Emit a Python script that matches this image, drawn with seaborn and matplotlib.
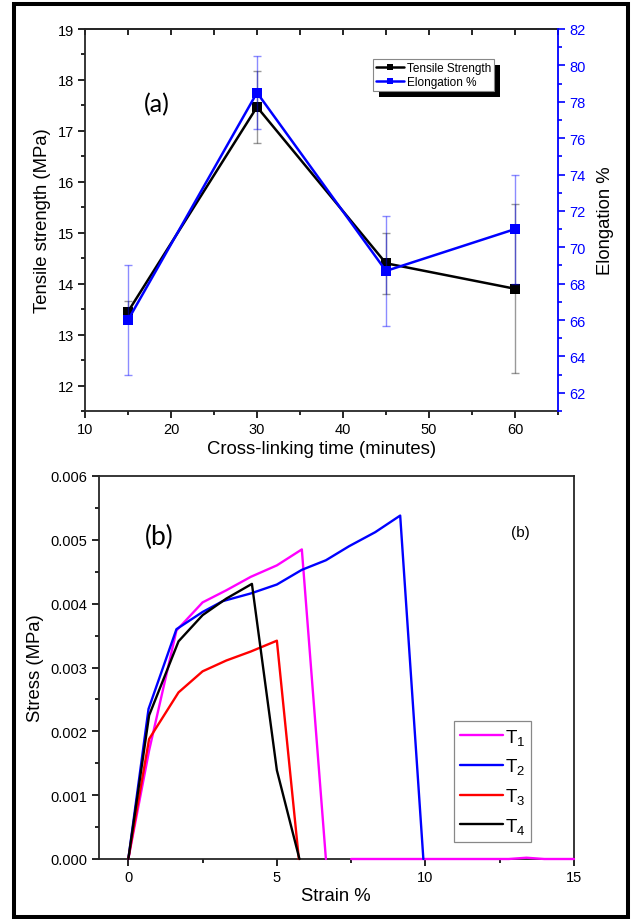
import numpy as np
import pandas as pd
import matplotlib
matplotlib.use("Agg")
import matplotlib.pyplot as plt
from matplotlib.ticker import MultipleLocator, FormatStrFormatter
from matplotlib.patches import Rectangle
from matplotlib.lines import Line2D
import seaborn as sns

# ---- Panel (a): mechanical properties vs cross-linking time ----
time_min = [15, 30, 45, 60]
tensile_mpa = [13.45, 17.47, 14.40, 13.90]
tensile_err = [0.20, 0.70, 0.60, 1.66]
elongation_pct = [66.0, 78.5, 68.7, 71.0]
elongation_err = [3.0, 2.0, 3.0, 3.0]

# ---- Panel (b): stress-strain curves ----
t1_strain = [0, 0.70, 1.62, 2.50, 3.30, 4.12, 5.00, 5.84, 6.65]
t1_stress = [0, 0.00170, 0.00358, 0.00402, 0.00421, 0.00442, 0.00460, 0.00485, 0]
t1_tail_strain = [7.50, 12.8, 13.4, 14.0, 15.0]
t1_tail_stress = [0, 0, 0.00002, 0, 0]
t2_strain = [0, 0.68, 1.62, 2.50, 3.18, 4.12, 5.00, 5.84, 6.65, 7.43, 8.31, 9.15, 9.93]
t2_stress = [0, 0.00235, 0.00360, 0.00387, 0.00404, 0.00416, 0.00430, 0.00453,
             0.00468, 0.00490, 0.00512, 0.00538, 0]
t3_strain = [0, 0.70, 1.69, 2.50, 3.30, 4.12, 5.00, 5.74]
t3_stress = [0, 0.00188, 0.00261, 0.00294, 0.00311, 0.00325, 0.00342, 0]
t4_strain = [0, 0.70, 1.69, 2.50, 3.30, 4.16, 5.00, 5.76]
t4_stress = [0, 0.00225, 0.00341, 0.00382, 0.00408, 0.00431, 0.00139, 0]
sample_labels = [r"$\mathregular{T_1}$", r"$\mathregular{T_2}$",
                 r"$\mathregular{T_3}$", r"$\mathregular{T_4}$"]
sample_colors = ["#ff00ff", "#0000ff", "#ff0000", "#000000"]

sns.set_theme(style="ticks")
plt.rcParams["font.family"] = ["Liberation Sans", "DejaVu Sans"]
plt.rcParams["mathtext.fontset"] = "custom"
plt.rcParams["mathtext.rm"] = "Liberation Sans"
plt.rcParams["mathtext.it"] = "Liberation Sans"
plt.rcParams["axes.linewidth"] = 1.3
plt.rcParams["text.color"] = "black"
plt.rcParams["axes.labelcolor"] = "black"
plt.rcParams["xtick.color"] = "black"
plt.rcParams["ytick.color"] = "black"

W, H = 631, 920
fig = plt.figure(figsize=(W / 100, H / 100), dpi=100, facecolor="white")

BLUE = "#0000ff"
TICK_FS = 10.5
LABEL_FS = 13.3

# ================= panel (a) =================
ax = fig.add_axes([85 / W, 1 - 412 / H, (558 - 85) / W, (412 - 30) / H])
ax.set_facecolor("white")
ax2 = ax.twinx()

df_a = pd.DataFrame({"time": time_min, "tensile": tensile_mpa,
                     "elong": elongation_pct})

ax.errorbar(time_min, tensile_mpa, yerr=tensile_err, fmt="none",
            ecolor=(0, 0, 0, 0.4), elinewidth=1, capsize=3, capthick=1)
sns.lineplot(data=df_a, x="time", y="tensile", ax=ax, color="black",
             marker="s", markersize=7, markeredgewidth=0, linewidth=1.8,
             legend=False)

ax2.errorbar(time_min, elongation_pct, yerr=elongation_err, fmt="none",
             ecolor=(0, 0, 1, 0.45), elinewidth=1, capsize=3, capthick=1)
sns.lineplot(data=df_a, x="time", y="elong", ax=ax2, color=BLUE,
             marker="s", markersize=7, markeredgewidth=0, linewidth=1.8,
             legend=False)

ax.set_xlim(10, 65)
ax.set_ylim(11.5, 19)
ax2.set_ylim(61, 82)

ax.xaxis.set_major_locator(MultipleLocator(10))
ax.xaxis.set_minor_locator(MultipleLocator(5))
ax.yaxis.set_major_locator(MultipleLocator(1))
ax.yaxis.set_minor_locator(MultipleLocator(0.5))
ax2.yaxis.set_major_locator(MultipleLocator(2))
ax2.yaxis.set_minor_locator(MultipleLocator(1))

ax.tick_params(axis="both", which="major", direction="out", length=5,
               width=1.2, labelsize=TICK_FS, pad=3)
ax.tick_params(axis="both", which="minor", direction="out", length=3,
               width=1.2)
ax.tick_params(axis="y", which="both", right=False)
ax2.tick_params(axis="y", which="major", direction="out", length=5,
                width=1.2, colors=BLUE, labelsize=TICK_FS, pad=3)
ax2.tick_params(axis="y", which="minor", direction="out", length=3,
                width=1.2, colors=BLUE)

ax.spines["right"].set_visible(False)
for s in ["top", "left", "bottom"]:
    ax2.spines[s].set_visible(False)
ax2.spines["right"].set_color(BLUE)
ax2.spines["right"].set_linewidth(1.3)

# inward ticks along the top edge
top = ax.secondary_xaxis("top")
top.xaxis.set_major_locator(MultipleLocator(5))
top.tick_params(axis="x", which="major", direction="in", length=4,
                width=1.2, labeltop=False)
top.spines["top"].set_linewidth(1.3)

ax.set_xlabel("Cross-linking time (minutes)", fontsize=LABEL_FS, labelpad=3)
ax.set_ylabel("Tensile strength (MPa)", fontsize=LABEL_FS, labelpad=5)
ax2.set_ylabel("Elongation %", fontsize=LABEL_FS, labelpad=8, color="black")

handles_a = [
    Line2D([], [], color="black", marker="s", markersize=5,
           markeredgewidth=0, linewidth=1.8),
    Line2D([], [], color=BLUE, marker="s", markersize=5,
           markeredgewidth=0, linewidth=1.8),
]
leg_a = ax2.legend(handles_a, ["Tensile Strength", "Elongation %"],
                   loc="upper left", bbox_to_anchor=(373 / W, 1 - 60 / H),
                   bbox_transform=fig.transFigure, borderaxespad=0,
                   fontsize=8.5, frameon=True, fancybox=False,
                   edgecolor="#888888", framealpha=1, handlelength=2.4,
                   handletextpad=0.2, labelspacing=0.15, borderpad=0.25)
leg_a.get_frame().set_linewidth(0.8)

fig.text(157 / W, 1 - 105 / H, "(a)", fontsize=18, family="Lato",
         ha="center", va="center")

# ================= panel (b) =================
axb = fig.add_axes([98.6 / W, 1 - 860 / H, (574 - 98.6) / W, (860 - 477) / H])
axb.set_facecolor("white")

curves = [
    (sample_labels[0], 0, t1_strain, t1_stress),
    (sample_labels[0], 1, t1_tail_strain, t1_tail_stress),
    (sample_labels[1], 2, t2_strain, t2_stress),
    (sample_labels[2], 3, t3_strain, t3_stress),
    (sample_labels[3], 4, t4_strain, t4_stress),
]
frames = []
for lab, seg, xs, ys in curves:
    frames.append(pd.DataFrame({"sample": lab, "segment": seg,
                                "strain": xs, "stress": ys}))
df_b = pd.concat(frames, ignore_index=True)

sns.lineplot(data=df_b, x="strain", y="stress", hue="sample",
             hue_order=sample_labels, palette=sample_colors,
             units="segment", estimator=None, sort=False,
             linewidth=1.7, ax=axb, legend=False)
for ln in axb.lines:
    ln.set_zorder(3)
    ln.set_clip_on(False)

axb.set_xlim(-1, 15)
axb.set_ylim(0, 0.006)
axb.xaxis.set_major_locator(MultipleLocator(5))
axb.xaxis.set_minor_locator(MultipleLocator(2.5))
axb.yaxis.set_major_locator(MultipleLocator(0.001))
axb.yaxis.set_minor_locator(MultipleLocator(0.0005))
axb.yaxis.set_major_formatter(FormatStrFormatter("%.3f"))
axb.tick_params(axis="both", which="major", direction="out", length=5,
                width=1.2, labelsize=TICK_FS, pad=3, top=False, right=False)
axb.tick_params(axis="both", which="minor", direction="out", length=3,
                width=1.2, top=False, right=False)
for s in axb.spines.values():
    s.set_linewidth(1.3)

axb.set_xlabel("Strain %", fontsize=LABEL_FS, labelpad=2)
axb.set_ylabel("Stress (MPa)", fontsize=LABEL_FS, labelpad=5)

handles_b = [Line2D([], [], color=c, linewidth=1.7) for c in sample_colors]
leg_b = axb.legend(handles_b, sample_labels, loc="upper left",
                   bbox_to_anchor=(454 / W, 1 - 722 / H),
                   bbox_transform=fig.transFigure, borderaxespad=0,
                   fontsize=13.5, frameon=True, fancybox=False,
                   edgecolor="#888888", framealpha=1, handlelength=2.3,
                   handletextpad=0.12, labelspacing=0.52, borderpad=0.3)
leg_b.get_frame().set_linewidth(0.9)

fig.text(159 / W, 1 - 537 / H, "(b)", fontsize=19, family="Lato",
         ha="center", va="center")
fig.text(520 / W, 1 - 533 / H, "(b)", fontsize=11, ha="center", va="center")

# outer frame around the whole figure
fig.add_artist(Rectangle((14 / W, 2 / H), (628 - 14) / W, (913 - 0) / H,
                         transform=fig.transFigure, fill=False,
                         edgecolor="black", linewidth=2.9))

# solid drop shadow behind the panel (a) legend
fig.canvas.draw()
bb = leg_a.get_window_extent()
ax2.add_artist(Rectangle((bb.x0 + 6, bb.y0 - 6), bb.width, bb.height,
                         transform=None, facecolor="black",
                         edgecolor="none", zorder=4.9, clip_on=False))

fig.savefig("out.png", dpi=100, facecolor="white")
